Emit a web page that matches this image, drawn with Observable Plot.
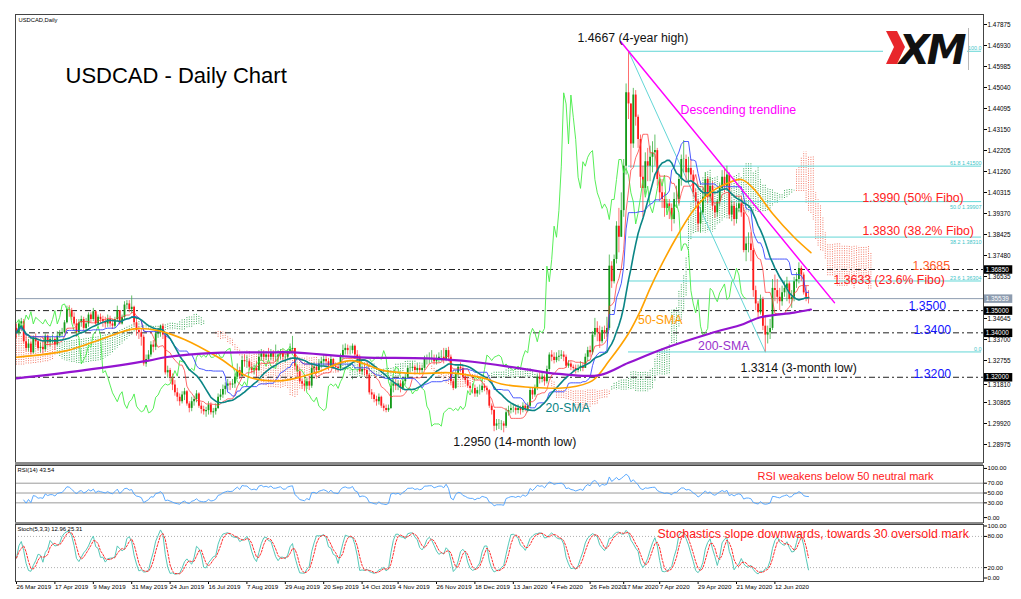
<!DOCTYPE html>
<html><head><meta charset="utf-8">
<script src="https://cdn.jsdelivr.net/npm/d3@7"></script>
<script src="https://cdn.jsdelivr.net/npm/@observablehq/plot@0.6"></script>
<style>
html,body{margin:0;padding:0;background:#fff;}
#wrap{position:relative;width:1021px;height:599px;overflow:hidden;background:#fff;font-family:"Liberation Sans",Arial,sans-serif;}
.sep{position:absolute;background:#8a8a8a;}
</style></head><body><div id="wrap"></div>
<script>
// ---------------- DATA ----------------
const firstOpen = 1.3420;
const closes = [
1.3400,1.3440,1.3450,1.3360,
1.3330,1.3350,1.3310,1.3370,1.3360,
1.3330,1.3335,1.3325,1.3385,1.3355,
1.3370,1.3370,1.3345,1.3385,1.3395,
1.3400,1.3445,1.3505,1.3500,1.3470,
1.3440,1.3400,1.3445,1.3460,1.3420,
1.3440,1.3480,1.3460,1.3495,1.3440,
1.3470,1.3460,1.3450,1.3440,1.3460,
1.3440,1.3430,1.3460,1.3500,1.3440,
1.3470,1.3525,1.3530,1.3505,1.3515,
1.3445,1.3410,1.3400,1.3380,1.3260,
1.3280,1.3300,1.3345,1.3335,1.3395,
1.3405,1.3430,1.3390,1.3220,1.3230,
1.3200,1.3165,1.3130,1.3110,1.3090,
1.3120,1.3135,1.3080,1.3060,1.3090,
1.3100,1.3125,1.3070,1.3055,1.3045,
1.3050,1.3075,1.3040,1.3045,1.3060,
1.3110,1.3120,1.3145,1.3160,1.3170,
1.3165,1.3170,1.3200,1.3230,1.3205,
1.3275,1.3270,1.3270,1.3245,1.3230,
1.3240,1.3230,1.3290,1.3305,1.3290,
1.3300,1.3290,1.3310,1.3290,1.3290,
1.3300,1.3310,1.3290,1.3290,1.3315,
1.3325,1.3330,1.3250,1.3225,1.3180,
1.3170,1.3160,1.3180,1.3160,1.3240,
1.3245,1.3230,1.3260,1.3270,1.3280,
1.3270,1.3250,1.3280,1.3250,1.3245,
1.3240,1.3290,1.3320,1.3330,1.3320,
1.3320,1.3340,1.3300,1.3290,1.3225,
1.3235,1.3230,1.3210,1.3130,1.3120,
1.3100,1.3090,1.3110,1.3070,1.3060,
1.3050,1.3060,1.3160,1.3170,1.3160,
1.3170,1.3150,1.3180,1.3200,1.3240,
1.3240,1.3245,1.3230,1.3240,1.3230,
1.3240,1.3280,1.3280,1.3285,1.3285,
1.3270,1.3280,1.3290,1.3290,1.3280,
1.3320,1.3290,1.3180,1.3150,1.3215,
1.3245,1.3240,1.3200,1.3185,1.3160,
1.3150,1.3150,1.3125,1.3140,1.3140,
1.3160,1.3150,1.3140,1.3070,
1.3050,1.2980,1.2990,1.2990,
1.2990,1.2980,1.3040,1.3050,1.3060,
1.3060,1.3050,1.3060,1.3050,1.3070,
1.3055,1.3070,1.3140,1.3120,1.3150,
1.3200,1.3190,1.3200,1.3180,1.3235,
1.3300,1.3290,1.3275,1.3290,1.3295,
1.3300,1.3290,1.3250,1.3260,1.3245,
1.3240,1.3230,1.3240,1.3250,1.3240,
1.3290,1.3320,1.3310,1.3390,1.3420,
1.3400,1.3360,1.3410,1.3400,1.3420,
1.3700,1.3630,1.3730,1.3880,1.3830,
1.3950,1.4150,1.4480,1.4430,1.4250,
1.4470,1.4370,1.4270,1.4100,1.4050,
1.4170,1.4150,1.4190,1.4210,1.4220,
1.4090,1.4030,1.4000,1.3960,1.3980,
1.3960,1.3910,1.4000,1.4000,1.4090,
1.4180,1.4180,1.4120,1.4140,1.4110,
1.4030,1.3990,1.3890,1.3940,1.4010,
1.4090,1.4010,1.4060,1.3970,1.3940,
1.3990,1.4050,1.4100,1.4060,1.4110,
1.3930,1.3970,1.3910,1.3960,1.3980,
1.3940,1.3770,1.3800,1.3800,1.3770,
1.3590,1.3530,1.3490,1.3550,1.3430,
1.3390,1.3400,1.3420,1.3600,1.3590,
1.3560,1.3540,1.3580,1.3600,1.3620,
1.3550,1.3560,1.3630,1.3640,1.3690,
1.3660,1.3580,1.3560,1.3554
];
const highs = [
1.3440,1.3455,1.3465,1.3460,
1.3385,1.3370,1.3360,1.3385,1.3395,
1.3365,1.3355,1.3360,1.3395,1.3390,
1.3380,1.3390,1.3380,1.3405,1.3410,
1.3420,1.3455,1.3520,1.3522,1.3510,
1.3490,1.3460,1.3460,1.3475,1.3470,
1.3465,1.3490,1.3490,1.3510,1.3500,
1.3480,1.3485,1.3475,1.3470,1.3480,
1.3475,1.3460,1.3470,1.3520,1.3500,
1.3480,1.3540,1.3545,1.3545,1.3566,
1.3520,1.3465,1.3425,1.3415,1.3390,
1.3300,1.3320,1.3360,1.3365,1.3410,
1.3420,1.3435,1.3440,1.3390,1.3250,
1.3240,1.3215,1.3185,1.3150,1.3125,
1.3135,1.3150,1.3140,1.3090,1.3110,
1.3115,1.3140,1.3130,1.3085,1.3070,
1.3065,1.3090,1.3085,1.3060,1.3080,
1.3125,1.3145,1.3165,1.3175,1.3190,
1.3180,1.3190,1.3215,1.3260,1.3245,
1.3295,1.3300,1.3295,1.3280,1.3265,
1.3255,1.3270,1.3320,1.3325,1.3320,
1.3315,1.3330,1.3325,1.3320,1.3345,
1.3320,1.3325,1.3325,1.3305,1.3325,
1.3350,1.3384,1.3330,1.3255,1.3240,
1.3190,1.3185,1.3195,1.3205,1.3255,
1.3265,1.3260,1.3280,1.3290,1.3300,
1.3295,1.3285,1.3295,1.3285,1.3265,
1.3265,1.3305,1.3345,1.3350,1.3345,
1.3340,1.3350,1.3345,1.3320,1.3300,
1.3250,1.3255,1.3240,1.3215,1.3145,
1.3130,1.3115,1.3125,1.3115,1.3080,
1.3075,1.3075,1.3180,1.3190,1.3190,
1.3185,1.3185,1.3195,1.3215,1.3250,
1.3260,1.3265,1.3255,1.3260,1.3255,
1.3255,1.3295,1.3300,1.3310,1.3320,
1.3300,1.3300,1.3310,1.3320,1.3330,
1.3330,1.3335,1.3300,1.3190,1.3230,
1.3255,1.3265,1.3250,1.3215,1.3200,
1.3175,1.3170,1.3165,1.3155,1.3165,
1.3175,1.3170,1.3160,1.3145,
1.3080,1.3055,1.3010,1.3010,
1.3005,1.3000,1.3060,1.3070,1.3080,
1.3080,1.3075,1.3075,1.3070,1.3085,
1.3080,1.3085,1.3150,1.3150,1.3165,
1.3215,1.3220,1.3220,1.3210,1.3250,
1.3310,1.3320,1.3310,1.3310,1.3320,
1.3320,1.3315,1.3300,1.3275,1.3270,
1.3255,1.3255,1.3255,1.3270,1.3265,
1.3305,1.3335,1.3340,1.3405,1.3465,
1.3450,1.3430,1.3425,1.3430,1.3470,
1.3750,1.3720,1.3750,1.3900,1.3960,
1.4030,1.4180,1.4520,1.4667,1.4430,
1.4500,1.4490,1.4380,1.4290,1.4150,
1.4210,1.4230,1.4240,1.4260,1.4290,
1.4230,1.4110,1.4090,1.4030,1.4000,
1.4000,1.3980,1.4030,1.4060,1.4110,
1.4200,1.4265,1.4200,1.4190,1.4180,
1.4130,1.4050,1.4000,1.3960,1.4050,
1.4120,1.4100,1.4100,1.4080,1.3980,
1.4000,1.4070,1.4130,1.4140,1.4150,
1.4120,1.3990,1.3990,1.3980,1.4010,
1.4000,1.3960,1.3830,1.3850,1.3850,
1.3780,1.3610,1.3540,1.3570,1.3560,
1.3470,1.3430,1.3460,1.3640,1.3660,
1.3640,1.3600,1.3610,1.3630,1.3650,
1.3630,1.3590,1.3650,1.3670,1.3715,
1.3700,1.3670,1.3610,1.3590
];
const lows = [
1.3375,1.3385,1.3405,1.3350,
1.3315,1.3315,1.3300,1.3305,1.3340,
1.3320,1.3310,1.3305,1.3315,1.3340,
1.3335,1.3350,1.3320,1.3340,1.3375,
1.3380,1.3395,1.3440,1.3470,1.3455,
1.3430,1.3380,1.3395,1.3425,1.3405,
1.3410,1.3425,1.3445,1.3450,1.3430,
1.3430,1.3440,1.3425,1.3420,1.3425,
1.3425,1.3415,1.3420,1.3450,1.3435,
1.3435,1.3460,1.3505,1.3490,1.3485,
1.3430,1.3385,1.3370,1.3340,1.3250,
1.3245,1.3270,1.3290,1.3310,1.3320,
1.3375,1.3380,1.3370,1.3210,1.3195,
1.3180,1.3140,1.3115,1.3090,1.3070,
1.3080,1.3095,1.3070,1.3040,1.3045,
1.3070,1.3085,1.3060,1.3035,1.3030,
1.3020,1.3030,1.3030,1.3016,1.3030,
1.3055,1.3095,1.3105,1.3120,1.3140,
1.3140,1.3150,1.3150,1.3190,1.3190,
1.3200,1.3245,1.3240,1.3230,1.3215,
1.3210,1.3200,1.3225,1.3275,1.3270,
1.3275,1.3275,1.3275,1.3270,1.3270,
1.3270,1.3280,1.3275,1.3265,1.3275,
1.3305,1.3310,1.3230,1.3200,1.3170,
1.3145,1.3135,1.3145,1.3140,1.3150,
1.3220,1.3215,1.3220,1.3240,1.3250,
1.3250,1.3230,1.3240,1.3235,1.3225,
1.3220,1.3230,1.3280,1.3300,1.3300,
1.3300,1.3305,1.3290,1.3270,1.3215,
1.3210,1.3205,1.3190,1.3120,1.3100,
1.3085,1.3070,1.3075,1.3060,1.3045,
1.3040,1.3042,1.3055,1.3130,1.3140,
1.3140,1.3130,1.3140,1.3165,1.3190,
1.3220,1.3225,1.3210,1.3215,1.3210,
1.3215,1.3230,1.3255,1.3260,1.3265,
1.3255,1.3255,1.3265,1.3270,1.3260,
1.3270,1.3270,1.3165,1.3140,1.3145,
1.3200,1.3220,1.3190,1.3170,1.3150,
1.3130,1.3125,1.3110,1.3110,1.3120,
1.3130,1.3135,1.3120,1.3060,
1.3030,1.2955,1.2960,1.2965,
1.2960,1.2950,1.2970,1.3025,1.3035,
1.3040,1.3030,1.3035,1.3030,1.3040,
1.3045,1.3040,1.3060,1.3100,1.3110,
1.3140,1.3170,1.3175,1.3160,1.3170,
1.3225,1.3270,1.3260,1.3265,1.3270,
1.3280,1.3270,1.3240,1.3240,1.3230,
1.3225,1.3215,1.3220,1.3225,1.3225,
1.3240,1.3270,1.3290,1.3300,1.3380,
1.3360,1.3330,1.3350,1.3370,1.3380,
1.3410,1.3600,1.3620,1.3710,1.3760,
1.3830,1.3920,1.4110,1.4360,1.4140,
1.4230,1.4330,1.4230,1.4050,1.3920,
1.4020,1.4080,1.4080,1.4120,1.4150,
1.4060,1.3990,1.3960,1.3920,1.3940,
1.3910,1.3855,1.3890,1.3960,1.3970,
1.4060,1.4120,1.4080,1.4070,1.4080,
1.4010,1.3960,1.3855,1.3850,1.3930,
1.3990,1.3980,1.3990,1.3950,1.3915,
1.3920,1.3970,1.4040,1.4030,1.4050,
1.3910,1.3900,1.3880,1.3890,1.3940,
1.3920,1.3760,1.3720,1.3760,1.3720,
1.3560,1.3500,1.3460,1.3480,1.3410,
1.3314,1.3350,1.3370,1.3410,1.3540,
1.3530,1.3500,1.3520,1.3560,1.3540,
1.3530,1.3510,1.3540,1.3600,1.3620,
1.3630,1.3570,1.3540,1.3530
];
// 50-SMA and 200-SMA (bar index, value)
const sma50Idx = [0,21,35,49,59,70,84,97,111,125,139,153,167,181,195,202,215,230,240,247,255,260,264,268,275,282,289,296,302,307,315,324,331];
const sma50Val = [1.3290,1.3320,1.3370,1.3418,1.3410,1.3370,1.3290,1.3200,1.3185,1.3222,1.3275,1.3230,1.3217,1.3220,1.3195,1.3170,1.3154,1.3154,1.3185,1.3275,1.3397,1.3500,1.3600,1.3690,1.3830,1.3950,1.4030,1.4072,1.4090,1.4050,1.3937,1.3830,1.3761];
const sma200Idx = [0,27,55,62,83,104,115,143,171,190,210,226,243,255,271,289,303,310,324,331];
const sma200Val = [1.3195,1.3230,1.3275,1.3290,1.3310,1.3312,1.3312,1.3290,1.3285,1.3270,1.3240,1.3215,1.3210,1.3265,1.3334,1.3397,1.3440,1.3470,1.3491,1.3505];
// Ichimoku cloud at the left edge (bars 0-51)
const cloudEarlyA = [1.3255,1.3255,1.3255,1.3255,1.3260,1.3260,1.3260,1.3262,1.3262,1.3265,1.3265,1.3268,1.3270,1.3270,1.3275,1.3280,1.3300,
1.3340,1.3350,1.3355,1.3360,1.3360,1.3362,1.3365,1.3365,1.3368,1.3370,1.3370,1.3372,1.3375,1.3375,1.3378,1.3380,1.3380,1.3382,1.3385,1.3388,1.3390,1.3392,1.3395,1.3398,1.3400,1.3405,1.3410,1.3415,1.3420,
1.3425,1.3430,1.3435,1.3440,1.3445,1.3450];
const cloudEarlyB = [1.3392,1.3392,1.3390,1.3390,1.3390,1.3388,1.3388,1.3388,1.3386,1.3386,1.3385,1.3385,1.3384,1.3383,1.3380,1.3375,1.3350,
1.3300,1.3290,1.3280,1.3275,1.3270,1.3268,1.3265,1.3265,1.3262,1.3262,1.3260,1.3260,1.3262,1.3265,1.3265,1.3268,1.3270,1.3270,1.3275,1.3280,1.3285,1.3290,1.3300,1.3310,1.3320,1.3330,1.3340,1.3350,1.3360,
1.3370,1.3380,1.3390,1.3400,1.3405,1.3410];
const priceTicks = [1.47875,1.46930,1.45985,1.45040,1.44095,1.43150,1.42205,1.41260,1.40315,1.39370,1.38425,1.37480,1.36535,1.35590,1.34645,1.33700,1.32755,1.31810,1.30865,1.29920,1.28975];
const dateTickIdx = [0,16,32,48,64,80,96,112,128,144,159,175,191,207,223,239,253,268,284,300,316];
const dateLabels = ["26 Mar 2019","17 Apr 2019","9 May 2019","31 May 2019","24 Jun 2019","16 Jul 2019","7 Aug 2019","29 Aug 2019","20 Sep 2019","14 Oct 2019","4 Nov 2019","26 Nov 2019","18 Dec 2019","13 Jan 2020","4 Feb 2020","26 Feb 2020","17 Mar 2020","7 Apr 2020","29 Apr 2020","21 May 2020","12 Jun 2020"];
const keyLevels = [1.3685,1.3500,1.3400,1.3200];
const keyLabels = ["1.36850","1.35000","1.34000","1.32000"];
const bidPrice = 1.35539, bidLabel = "1.35539";
const fiboPcts = [0,23.6,38.2,50,61.8,100];
const fiboTags = ["0.0","23.6 1.36304","38.2 1.38310","50.0 1.39907","61.8 1.41500","100.0"];
const trendline = [{i:251.7,p:1.4711},{i:340.8,p:1.3536}];
const rsiLevels = [30,50,70], rsiTicks = [0,30,50,70,100];
const stochLevels = [20,80], stochTicks = [0,20,80,100];
const rsiLast = "RSI(14) 43.54", stochLast = "Stoch(5,3,3) 12.96 25.31";

// ---------------- DERIVED ----------------
const N = closes.length;
const idx = d3.range(N);
const bars = idx.map(i => {
  const o = i === 0 ? firstOpen : closes[i-1];
  return {i, o, h: highs[i], l: lows[i], c: closes[i], up: closes[i] >= o};
});
function midWin(t, n){ let hh=-Infinity, ll=Infinity; for(let k=Math.max(0,t-n+1);k<=t;k++){hh=Math.max(hh,highs[k]);ll=Math.min(ll,lows[k]);} return (hh+ll)/2; }
const tenkan = idx.map(t => ({i:t, v: midWin(t,9)}));
const kijun = idx.map(t => ({i:t, v: midWin(t,26)}));
const cloud = cloudEarlyA.map((a,k)=>({x:k, a, b:cloudEarlyB[k]}));
for (let t=26; t<N; t++) cloud.push({x:t+26, a:(tenkan[t].v+kijun[t].v)/2, b: midWin(t,52)});
const chikou = idx.filter(t=>t>=26).map(t=>({i:t-26, v:closes[t]}));
const sma50 = sma50Idx.map((i,k)=>({i, v:sma50Val[k]}));
const sma200 = sma200Idx.map((i,k)=>({i, v:sma200Val[k]}));
const peakIdx = d3.maxIndex(highs);
const lowIdx = peakIdx + d3.minIndex(lows.slice(peakIdx));
const fibHigh = highs[peakIdx], fibLow = lows[lowIdx];
const fibo = fiboPcts.map((p,k)=>({p, v: fibLow + p/100*(fibHigh-fibLow), tag: fiboTags[k]}));
const fiboAbove = fibo.filter(d => d.p !== 50 && d.p !== 38.2);
const fiboBelow = fibo.filter(d => d.p === 50 || d.p === 38.2);
// RSI(14)
const rsi = []; { let ag=0, al=0; for (let t=1;t<N;t++){ const ch=closes[t]-closes[t-1], g=Math.max(ch,0), l=Math.max(-ch,0);
  if (t<=14){ ag+=(g-ag)/t; al+=(l-al)/t; } else { ag=(ag*13+g)/14; al=(al*13+l)/14; }
  if (t>=3) rsi.push({i:t, v: al===0?100:100-100/(1+ag/al)}); } }
// Stochastic(5,3,3)
const raw = idx.map(t=>{ let hh=-Infinity, ll=Infinity; for(let k=Math.max(0,t-4);k<=t;k++){hh=Math.max(hh,highs[k]);ll=Math.min(ll,lows[k]);} return {n: closes[t]-ll, d: hh-ll}; });
const stK = idx.map(t=>{ let n=0,d=0; for(let k=Math.max(0,t-2);k<=t;k++){n+=raw[k].n;d+=raw[k].d;} return {i:t, v: d? 100*n/d : 50}; });
const stD = idx.map(t=>{ const s=Math.max(0,t-2); return {i:t, v: d3.mean(stK.slice(s,t+1), d=>d.v)}; });

// ---------------- LAYOUT ----------------
const W = 1021, ML = 15, MR = 38;
const X0 = -1/2.4, X1 = X0 + (W-ML-MR)/2.4;
const font = "'Liberation Sans', Arial, sans-serif";
const style = {fontFamily: font, background: "transparent", overflow: "visible", fontSize: "6.4px"};
const bullC = "#149a1a", bearC = "#ff1a1a", bullW = "#3cb043", bearW = "#ff4a4a";
const fibC = "#62d6d6";
const wrap = document.getElementById("wrap");
function place(el, top){ el.style.position="absolute"; el.style.left="0px"; el.style.top=top+"px"; wrap.appendChild(el); }
function ann(t, x, y, fill, size, extra={}){ return Plot.text([{x,y,t}], {x:"x", y:"y", text:"t", fill, fontSize:size, textAnchor:"start", lineAnchor:"bottom", ...extra}); }
const red = "#ff2020", blue = "#1414ff";
const shiftedTick = 1.31810; // its label sits partly under the 1.32000 box
const mainTicks = priceTicks.filter(d => d !== shiftedTick);

const main = Plot.plot({
  width: W, height: 463, marginTop: 14, marginLeft: ML, marginRight: MR, marginBottom: 1,
  style, color: {type: "identity"},
  x: {domain: [X0, X1], axis: null},
  y: {domain: [1.28165, 1.48325]},
  marks: [
    Plot.ruleX(cloud, {x:"x", y1:"a", y2:"b", stroke: d => d.a >= d.b ? "#3faa5c" : "#f27d6b", strokeWidth: 1, strokeDasharray: "1,1.3"}),
    Plot.ruleY(fibo, {y:"v", x1: peakIdx, x2: X1 - 0.8, stroke: fibC, strokeWidth: 1}),
    Plot.line([{i:peakIdx, v:fibHigh},{i:lowIdx, v:fibLow}], {x:"i", y:"v", stroke: fibC, strokeWidth: 1}),
    Plot.text(fiboAbove, {x: X1 - 0.8, y: "v", text: "tag", fill: "#3cc4c8", fontSize: 5.4, textAnchor: "end", lineAnchor: "bottom", dy: -1}),
    Plot.text(fiboBelow, {x: X1 - 0.8, y: "v", text: "tag", fill: "#3cc4c8", fontSize: 5.4, textAnchor: "end", lineAnchor: "top", dy: 3.5}),
    Plot.ruleY(keyLevels, {stroke: "#222", strokeWidth: 1, strokeDasharray: "6,3,2,3"}),
    Plot.ruleY([bidPrice], {stroke: "#8d9caf", strokeWidth: 1}),
    Plot.ruleX(bars, {x:"i", y1:"l", y2:"h", stroke: d => d.up ? bullW : bearW, strokeWidth: 0.8}),
    Plot.ruleX(bars, {x:"i", y1:"o", y2: d => d.c === d.o ? d.c + 0.00008 : d.c, stroke: d => d.up ? bullC : bearC, strokeWidth: 1.8}),
    Plot.line(chikou, {x:"i", y:"v", stroke: "#45ec45", strokeWidth: 0.9}),
    Plot.line(tenkan, {x:"i", y:"v", stroke: "#ff3a3a", strokeWidth: 0.9, strokeOpacity: 0.85}),
    Plot.line(kijun, {x:"i", y:"v", stroke: "#3646ff", strokeWidth: 0.9}),
    Plot.lineY(bars, Plot.windowY({k: 20, anchor: "end"}, {x:"i", y:"c", stroke: "#0a8585", strokeWidth: 1.6})),
    Plot.line(sma50, {x:"i", y:"v", stroke: "#ffa200", strokeWidth: 1.6, curve: "catmull-rom"}),
    Plot.line(sma200, {x:"i", y:"v", stroke: "#9414d0", strokeWidth: 2.2, curve: "catmull-rom"}),
    Plot.line(trendline, {x:"i", y:"p", stroke: "#ff00ff", strokeWidth: 1.5}),
    Plot.axisY({anchor: "right", ticks: mainTicks, tickFormat: d => d.toFixed(5), tickSize: 3, tickPadding: 1, fontSize: 6.4, label: null}),
    Plot.axisY({anchor: "right", ticks: [shiftedTick], tickFormat: d => d.toFixed(5), tickSize: 3, tickPadding: 1, fontSize: 6.4, label: null, dy: 3}),
    Plot.ruleY(keyLevels, {x1: X1 + 0.35, x2: X1 + 12.2, stroke: "#000", strokeWidth: 8.5}),
    Plot.text(keyLevels, {x: X1 + 0.9, y: d => d, text: (d,k) => keyLabels[k], fill: "#fff", fontSize: 6.4, textAnchor: "start"}),
    Plot.ruleY([bidPrice], {x1: X1 + 0.35, x2: X1 + 12.2, stroke: "#8d9caf", strokeWidth: 8.5}),
    Plot.text([bidPrice], {x: X1 + 0.9, y: d => d, text: () => bidLabel, fill: "#fff", fontSize: 6.4, textAnchor: "start"}),
    Plot.frame({stroke: "#444"}),
    Plot.text(["USDCAD,Daily"], {frameAnchor: "top-left", dx: 3, dy: 3, lineAnchor: "top", fontSize: 5.8}),
    Plot.text(["USDCAD - Daily Chart"], {frameAnchor: "top-left", dx: 50, dy: 68, lineAnchor: "bottom", fontSize: 22, textAnchor: "start"}),
    ann("1.4667 (4-year high)", 233.75, 1.4707, "#111", 12.3),
    ann("Descending trendline", 276.7, 1.4387, "#ff00ff", 12.3),
    ann("1.3990 (50% Fibo)", 352.5, fibo[3].v, red, 12.3),
    ann("1.3830 (38.2% Fibo)", 352.5, fibo[2].v, red, 12.3, {dy: -2}),
    ann("1.3685", 373.3, 1.3685, "#ff5a28", 12.3),
    ann("1.3633 (23.6% Fibo)", 340.4, fibo[1].v, red, 12.3, {dy: 3.5}),
    ann("1.3500", 371.7, 1.3500, blue, 12.3, {dy: -1}),
    ann("1.3400", 373.75, 1.3400, blue, 12.3, {dy: 1}),
    ann("1.3200", 373.75, 1.3200, blue, 12.3, {dy: 1}),
    ann("50-SMA", 259, 1.3442, "#ff9a00", 12.3),
    ann("200-SMA", 284, 1.3325, "#9932cc", 12.3),
    ann("1.3314 (3-month low)", 301.7, 1.3226, "#111", 12.3),
    ann("20-SMA", 220.4, 1.3046, "#0a8585", 12.3),
    ann("1.2950 (14-month low)", 182, 1.2889, "#111", 12.3)
  ]
});
place(main, 0);

const rsiPlot = Plot.plot({
  width: W, height: 60, marginTop: 2, marginLeft: ML, marginRight: MR, marginBottom: 1,
  style, x: {domain: [X0, X1], axis: null}, y: {domain: [-10, 106]},
  marks: [
    Plot.ruleY(rsiLevels, {stroke: "#9a9a9a", strokeWidth: 1}),
    Plot.line(rsi, {x:"i", y:"v", stroke: "#4aa0ff", strokeWidth: 0.9}),
    Plot.axisY({anchor: "right", ticks: rsiTicks, tickFormat: d => d.toFixed(2), tickSize: 3, tickPadding: 1, fontSize: 6.2, label: null}),
    Plot.frame({stroke: "#444"}),
    Plot.text([rsiLast], {frameAnchor: "top-left", dx: 2, dy: 2, lineAnchor: "top", fontSize: 5.9}),
    Plot.text([{x:308.75, y:77.5, t:"RSI weakens below 50 neutral mark"}], {x:"x", y:"y", text:"t", fill: red, fontSize: 11, textAnchor: "start", lineAnchor: "bottom"})
  ]
});
place(rsiPlot, 463);

const labelMap = new Map(dateTickIdx.map((d,k)=>[d, dateLabels[k]]));
const stochPlot = Plot.plot({
  width: W, height: 76, marginTop: 1, marginLeft: ML, marginRight: MR, marginBottom: 18,
  style, x: {domain: [X0, X1]}, y: {domain: [-6.7, 102.9]},
  marks: [
    Plot.ruleY(stochLevels, {stroke: "#b0b0b0", strokeWidth: 1, strokeDasharray: "1,2"}),
    Plot.line(stK, {x:"i", y:"v", stroke: "#55c8b8", strokeWidth: 1}),
    Plot.line(stD, {x:"i", y:"v", stroke: "#ff3030", strokeWidth: 1, strokeDasharray: "2,1.6"}),
    Plot.axisY({anchor: "right", ticks: stochTicks, tickFormat: d => d.toFixed(2), tickSize: 3, tickPadding: 1, fontSize: 6.2, label: null}),
    Plot.axisX({anchor: "bottom", ticks: dateTickIdx, tickFormat: d => labelMap.get(d), tickSize: 3, tickPadding: 0, textAnchor: "start", fontSize: 6.2, label: null}),
    Plot.frame({stroke: "#444"}),
    Plot.text([stochLast], {frameAnchor: "top-left", dx: 2, dy: 2, lineAnchor: "top", fontSize: 5.9}),
    Plot.text([{x:267.1, y:76, t:"Stochastics slope downwards, towards 30 oversold mark"}], {x:"x", y:"y", text:"t", fill: red, fontSize: 12.4, textAnchor: "start", lineAnchor: "bottom"})
  ]
});
place(stochPlot, 523);

// panel separators
[[462,3],[521.5,2.5]].forEach(([t,h])=>{ const d=document.createElement("div"); d.className="sep"; d.style.left=ML+"px"; d.style.width=(W-ML-MR)+"px"; d.style.top=t+"px"; d.style.height=h+"px"; wrap.appendChild(d); });

// XM logo
const logo = document.createElementNS("http://www.w3.org/2000/svg","svg");
logo.setAttribute("width", W); logo.setAttribute("height", 100);
logo.style.position="absolute"; logo.style.left="0px"; logo.style.top="0px";
logo.innerHTML = `<rect x="883" y="25" width="84" height="47" fill="#fff"/>
<line x1="968.5" y1="28" x2="968.5" y2="70" stroke="#b8b8b8" stroke-width="1"/>
<polygon points="886,31 897,31 905,47 897,64 886,64 894,47" fill="#e8262b"/>
<text x="899" y="64" font-family="DejaVu Sans" font-weight="bold" font-style="italic" font-size="40" fill="#111" letter-spacing="-3">XM</text>`;
wrap.appendChild(logo);
</script></body></html>
